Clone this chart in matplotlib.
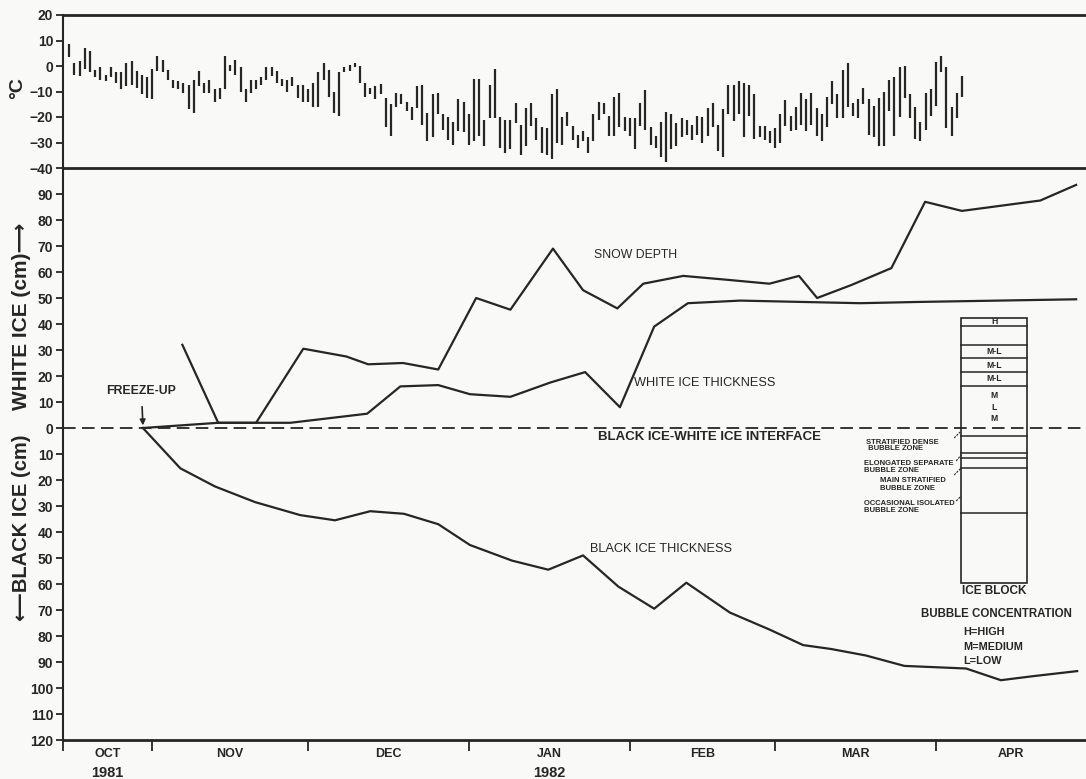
import matplotlib
matplotlib.use("Agg")
import matplotlib.pyplot as plt
from matplotlib.patches import Rectangle
from matplotlib.transforms import blended_transform_factory

plt.rcParams['font.family'] = ['Liberation Sans', 'DejaVu Sans']

# ---------------- DATA ----------------
# day numbers: Oct 1 1981 = 0
temp_day0 = 15
temp_max = [8.5, 1, 2, 7, 6, -1.5, -0.5, -3.5, -0.5, -2.5, -2.5, 1, 2, -2, -3.5, -4.5, -1, 4, 2.5, -1.5,
            -5.5, -6, -6.5, -7.5, -5.5, -2, -6.5, -5.5, -9, -8.5, 4, 0.5, 2.5, -0.5, -9, -5.5, -5.5, -4.5, -0.5, -0.5,
            -2, -5, -5.5, -4.5, -7.5, -7.5, -9, -6.5, -2.5, 1, -1.5, -10, -2.5, -0.5, 0.5, 1, 0, -6.5, -8.5, -8,
            -7, -12.5, -15, -10.5, -11, -14, -16, -8, -7.5, -18.5, -11, -10.5, -19, -20, -22, -13, -14, -19, -5, -5,
            -21, -7.5, -1, -20, -21, -21, -14.5, -23, -16.5, -14.5, -20.5, -24, -24.5, -11, -9, -20, -18, -23.5, -27, -25.5,
            -28, -19, -14, -14.5, -19.5, -12, -10.5, -20, -20.5, -20.5, -14.5, -9.5, -24, -27.5, -22, -18, -19, -22.5, -20.5, -21,
            -23, -19.5, -20, -16.5, -14.5, -23, -17, -7.5, -7.5, -6, -6.5, -7.5, -11, -23.5, -23.5, -25.5, -24.5, -19, -13.5, -19.5,
            -16, -10.5, -13, -10.5, -16.5, -19, -12, -6, -11, -1.5, 1, -14.5, -13, -8.5, -13, -15.5, -12.5, -10, -5.5, -4.5,
            -0.5, 0, -11, -16, -22, -10.5, -9, 1.5, 4, -0.5, -16, -10.5, -4]
temp_min = [3.5, -3.5, -4, -1, -2.5, -4.5, -5.5, -6, -4.5, -6.5, -9, -8, -7.5, -8.5, -11, -12.5, -13, -2, -2.5, -5.5,
            -8.5, -9, -10.5, -17, -18.5, -8, -10.5, -10.5, -14, -13, -9, -2, -3.5, -10, -14, -10.5, -9, -7.5, -5.5, -4,
            -6.5, -8, -10, -8, -12.5, -14, -14, -16, -16, -5.5, -12, -18.5, -19.5, -2.5, -2, -0.5, -6.5, -12, -11, -13,
            -11, -24, -27.5, -16, -15, -17.5, -21, -16.5, -23, -29.5, -28, -19, -25, -29, -31, -25.5, -26, -31, -29.5, -27.5,
            -31.5, -20.5, -20.5, -32, -34, -32.5, -22.5, -35, -31.5, -23.5, -29, -34, -35, -36.5, -30, -31, -23.5, -29, -32, -29.5,
            -34, -29.5, -21, -19, -27.5, -27.5, -24, -25.5, -27.5, -32.5, -23.5, -25, -31, -32, -35.5, -37.5, -32.5, -31.5, -28, -27,
            -29, -27, -30, -27.5, -24, -33.5, -35.5, -19, -21.5, -19, -28, -19.5, -28.5, -28, -29, -30, -32, -30, -23.5, -25.5,
            -25, -23, -25.5, -23, -27.5, -29.5, -24, -15, -20.5, -20.5, -16, -19.5, -20.5, -15, -27, -28, -31.5, -31.5, -17.5, -27.5,
            -20, -12.5, -20.5, -28.5, -29.5, -25, -19.5, -15.5, -2.5, -24.5, -27.5, -20.5, -12]
temp_days = [temp_day0 + i for i in range(len(temp_max))]

snow_days = [36.8, 43.7, 51.0, 60.1, 68.4, 72.6, 79.3, 86.1, 93.4, 100.0, 108.2, 114.0, 120.6, 125.6,
             133.3, 141.8, 149.9, 155.6, 159.1, 165.7, 173.4, 179.9, 187.0, 202.1, 209.0]
snow_cm = [32, 2, 2, 30.5, 27.5, 24.5, 25, 22.5, 50, 45.5, 69, 53, 46, 55.5,
           58.5, 57, 55.5, 58.5, 50, 55, 61.5, 87, 83.5, 87.5, 93.5]

white_days = [29.2, 43.7, 51.0, 57.6, 72.4, 78.8, 86.1, 92.2, 100.0, 107.7, 114.4, 121.1, 127.7,
              134.2, 144.3, 155.8, 167.4, 179.0, 209.0]
white_cm = [0, 2, 2, 2, 5.5, 16, 16.5, 13, 12, 17.5, 21.5, 8, 39,
            48, 49, 48.5, 48, 48.5, 49.5]

black_days = [29.2, 36.4, 43.1, 50.8, 59.5, 66.2, 73.0, 79.5, 86.1, 92.2, 100.3, 107.3, 114.0,
              120.8, 127.7, 133.9, 142.3, 149.9, 156.4, 161.8, 168.5, 175.9, 181.8, 187.8, 194.5, 200.5, 209.2]
black_cm = [0, 15.5, 22.5, 28.5, 33.5, 35.5, 32, 33, 37, 45, 51, 54.5, 49,
            61, 69.5, 59.5, 71, 77.5, 83.5, 85, 87.5, 91.5, 92, 92.5, 97, 95.5, 93.5]

freeze_up_day = 29.2

month_bounds = [31, 61, 92, 123, 151, 182]
month_names = ['OCT', 'NOV', 'DEC', 'JAN', 'FEB', 'MAR', 'APR']
month_centres = [22.4, 46, 76.5, 107.5, 137, 166.5, 196.5]
years = [('1981', 22.4), ('1982', 107.5)]

temp_ticks = [-40, -30, -20, -10, 0, 10, 20]
ice_ticks = list(range(-120, 100, 10))

# ice block layers (cm, + white ice, - black ice)
block_left, block_right = 186.8, 199.6
block_top, block_bottom = 42.3, -59.6
block_lines = [39.2, 31.9, 26.9, 21.5, 16.2, -3.1, -9.6, -11.5, -15.4, -32.7]
block_labels = [('H', 40.8), ('M-L', 29.4), ('M-L', 24.2), ('M-L', 18.9), ('M', 12.6), ('L', 8.0), ('M', 3.8)]

# ---------------- FIGURE ----------------
W, H = 1086, 779
fig = plt.figure(figsize=(W / 100, H / 100), dpi=100)
bg = '#f9f9f7'
fig.patch.set_facecolor(bg)
ink = '#262626'

L = 63 / W
ax_b = fig.add_axes([L, 1 - 740 / H, 1 - L, (740 - 168) / H])
ax_t = fig.add_axes([L, 1 - 168 / H, 1 - L, (168 - 15) / H])
ax_t.set_zorder(3)
XMIN, XMAX = 13.8, 210.9

def px2day(x):
    return 14.4 + (x - 66) / 5.19

def px2cm(y):
    return (428 - y) / 2.6

for ax in (ax_t, ax_b):
    ax.set_facecolor(bg)
    ax.set_xlim(XMIN, XMAX)
    ax.spines['right'].set_visible(False)
    ax.spines['left'].set_linewidth(1.5)
    ax.spines['left'].set_color(ink)
    ax.tick_params(axis='y', direction='out', length=5, width=1.3, color=ink, pad=2,
                   labelsize=10, labelcolor=ink)
ax_t.patch.set_alpha(0)

# ---- temperature panel ----
ax_t.set_ylim(-40, 20)
ax_t.vlines(temp_days, temp_min, temp_max, color=ink, lw=1.6)
ax_t.set_yticks(temp_ticks)
ax_t.set_yticklabels([('\u2212%d' % -t) if t < 0 else str(t) for t in temp_ticks],
                     fontweight='bold', fontsize=10)
ax_t.set_xticks([])
for s in ('top', 'bottom'):
    ax_t.spines[s].set_linewidth(2.0)
    ax_t.spines[s].set_color(ink)

# ---- ice panel ----
ax_b.set_ylim(-120, 100)
ax_b.spines['top'].set_visible(False)
ax_b.spines['bottom'].set_linewidth(2.0)
ax_b.spines['bottom'].set_color(ink)
ax_b.set_yticks(ice_ticks)
ax_b.set_yticklabels([str(abs(t)) for t in ice_ticks], fontweight='bold', fontsize=10)

ax_b.set_xticks([XMIN] + month_bounds)
ax_b.set_xticklabels([])
ax_b.tick_params(axis='x', which='major', direction='out', length=8, width=1.3, color=ink)
ax_b.set_xticks(month_centres, minor=True)
ax_b.set_xticklabels(month_names, minor=True, fontweight='bold', fontsize=9)
ax_b.tick_params(axis='x', which='minor', length=0, pad=6, labelcolor=ink)
tr = blended_transform_factory(ax_b.transData, ax_b.transAxes)
for yr, d in years:
    ax_b.annotate(yr, xy=(d, 0), xycoords=tr, xytext=(0, -24), textcoords='offset points',
                  ha='center', va='center', fontsize=10.5, fontweight='bold', color=ink)

ax_b.axhline(0, color=ink, lw=1.3, dashes=(7, 3.5))
ax_b.plot(snow_days, snow_cm, color=ink, lw=1.6)
ax_b.plot(white_days, white_cm, color=ink, lw=1.6)
ax_b.plot(black_days, [-v for v in black_cm], color=ink, lw=1.6)

# labels on curves
ax_b.text(px2day(594), px2cm(255), 'SNOW DEPTH', fontsize=8.8, color=ink, va='center', ha='left')
ax_b.text(px2day(634), px2cm(383), 'WHITE ICE THICKNESS', fontsize=9.2, color=ink, va='center', ha='left')
ax_b.text(px2day(590), px2cm(549), 'BLACK ICE THICKNESS', fontsize=9.2, color=ink, va='center', ha='left')
ax_b.text(px2day(598), px2cm(437), 'BLACK ICE-WHITE ICE INTERFACE', fontsize=9.5,
          fontweight='bold', color=ink, va='center', ha='left')
ax_b.annotate('FREEZE-UP', xy=(freeze_up_day, 1.0), xytext=(freeze_up_day - 0.3, px2cm(391)),
              ha='center', va='center', fontsize=8.8, fontweight='bold', color=ink,
              arrowprops=dict(arrowstyle='-|>', color=ink, lw=1.2, mutation_scale=8,
                              shrinkA=5, shrinkB=0))

# ice block
ax_b.add_patch(Rectangle((block_left, block_bottom), block_right - block_left, block_top - block_bottom,
                         fill=False, ec=ink, lw=1.2, zorder=5))
for v in block_lines:
    ax_b.plot([block_left, block_right], [v, v], color=ink, lw=1.1, zorder=5)
bc = (block_left + block_right) / 2
for lab, v in block_labels:
    ax_b.text(bc, v, lab, fontsize=6.2, fontweight='bold', ha='center', va='center', color=ink)

zones = [('STRATIFIED DENSE\n BUBBLE ZONE', 866, 445.5, (954, 438), (960, 432)),
         ('ELONGATED SEPARATE\nBUBBLE ZONE', 864, 467, (956, 461), (961, 455)),
         ('MAIN STRATIFIED\nBUBBLE ZONE', 880, 484.5, (954, 475), (961, 468)),
         ('OCCASIONAL ISOLATED\nBUBBLE ZONE', 864, 507, (956, 501), (961, 496))]
for txt, xp, yp, p0, p1 in zones:
    ax_b.text(px2day(xp), px2cm(yp), txt, fontsize=5.5, fontweight='bold', ha='left', va='center',
              color=ink, linespacing=1.0)
    ax_b.plot([px2day(p0[0]), px2day(p1[0])], [px2cm(p0[1]), px2cm(p1[1])], color=ink, lw=0.8,
              dashes=(2, 1))

ax_b.text(bc, px2cm(591), 'ICE BLOCK', fontsize=8.5, fontweight='bold', ha='center', va='center', color=ink)
ax_b.text(bc + 0.5, px2cm(614), 'BUBBLE CONCENTRATION', fontsize=8.3, fontweight='bold', ha='center',
          va='center', color=ink)
for txt, yp in [('H=HIGH', 632), ('M=MEDIUM', 647), ('L=LOW', 661)]:
    ax_b.text(px2day(963), px2cm(yp), txt, fontsize=7.8, fontweight='bold', ha='left', va='center',
              color=ink)

# axis labels
fig.text(18 / W, 1 - 88 / H, '\u00b0C', rotation=90, fontsize=14, fontweight='bold',
         ha='center', va='center', color=ink)
fig.text(22 / W, 1 - 316 / H, 'WHITE ICE (cm)\u27f6', rotation=90, fontsize=15, fontweight='bold',
         ha='center', va='center', color=ink)
fig.text(22 / W, 1 - 528 / H, '\u27f5BLACK ICE (cm)', rotation=90, fontsize=14.5, fontweight='bold',
         ha='center', va='center', color=ink)

fig.savefig('out.png', dpi=100, facecolor=bg)
